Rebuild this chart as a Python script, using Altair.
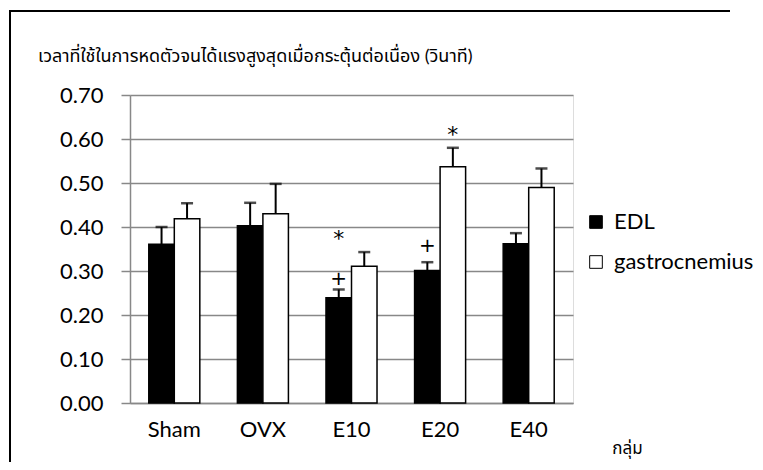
import altair as alt
import pandas as pd

groups = ["Sham", "OVX", "E10", "E20", "E40"]
series = ["EDL", "gastrocnemius"]
edl_mean = [0.361, 0.403, 0.239, 0.301, 0.362]
edl_top = [0.400, 0.455, 0.258, 0.320, 0.386]
gas_mean = [0.419, 0.430, 0.311, 0.537, 0.490]
gas_top = [0.454, 0.498, 0.343, 0.580, 0.533]

star_groups = ["E10", "E20"]
star_series = ["EDL", "gastrocnemius"]
star_y = [0.377, 0.614]
plus_groups = ["E10", "E20"]
plus_series = ["EDL", "EDL"]
plus_y = [0.282, 0.357]

y_ticks = [0.0, 0.1, 0.2, 0.3, 0.4, 0.5, 0.6, 0.7]
title_text = "เวลาที่ใช้ในการหดตัวจนได้แรงสูงสุดเมื่อกระตุ้นต่อเนื่อง (วินาที)"
x_title = "กลุ่ม"

FONT = "Lato, 'Noto Sans Thai', 'Noto Sans', sans-serif"
MFONT = "DejaVu Sans"

rows = []
for i, g in enumerate(groups):
    rows.append({"group": g, "series": "EDL", "value": edl_mean[i], "top": edl_top[i]})
    rows.append({"group": g, "series": "gastrocnemius", "value": gas_mean[i], "top": gas_top[i]})
df = pd.DataFrame(rows)
stars = pd.DataFrame({"group": star_groups, "series": star_series, "y": star_y, "t": ["*"] * 2})
pluses = pd.DataFrame({"group": plus_groups, "series": plus_series, "y": plus_y, "t": ["+"] * 2})

x_enc = alt.X("group:N", sort=groups,
              scale=alt.Scale(paddingInner=0.424, paddingOuter=0.212),
              axis=alt.Axis(title=x_title, labelAngle=0, ticks=False,
                            domainColor="#888888", domainWidth=1.5,
                            labelPadding=16, labelFontSize=22, labelFont=FONT,
                            labelColor="black", titleFont=FONT, titleFontSize=17,
                            titleFontWeight="normal", titleColor="black",
                            titleX=497, titleY=45, titleAlign="center",
                            titleBaseline="middle"))
xo_enc = alt.XOffset("series:N", sort=series,
                     scale=alt.Scale(paddingInner=0, paddingOuter=0))
y_scale = alt.Scale(domain=[0, 0.7], nice=False)

base = alt.Chart(df)

bars = base.mark_bar(stroke="black", strokeWidth=1.5).encode(
    x=x_enc,
    xOffset=xo_enc,
    y=alt.Y("value:Q", scale=y_scale,
            axis=alt.Axis(title=None, values=y_ticks, format=".2f",
                          grid=True, gridColor="#888888", gridWidth=1.5,
                          domainColor="#888888", domainWidth=1.5,
                          tickColor="#888888", tickWidth=1.5, tickSize=9,
                          labelPadding=18, labelFontSize=22, labelFont=FONT,
                          labelColor="black")),
    color=alt.Color("series:N", scale=alt.Scale(domain=series, range=["black", "white"]),
                    legend=alt.Legend(title=None, orient="none", legendX=455, legendY=116,
                                      symbolType="square", symbolSize=160,
                                      symbolStrokeColor="black", symbolStrokeWidth=1,
                                      labelFontSize=22, labelFont=FONT, labelColor="black",
                                      labelOffset=7, rowPadding=18, padding=0)),
)

err = base.mark_rule(color="black", strokeWidth=2).encode(
    x=alt.X("group:N", sort=groups),
    xOffset=alt.XOffset("series:N", sort=series),
    y=alt.Y("value:Q", scale=y_scale),
    y2="top:Q",
)

cap = base.mark_tick(color="black", thickness=2.5, size=12, orient="horizontal").encode(
    x=alt.X("group:N", sort=groups),
    xOffset=alt.XOffset("series:N", sort=series),
    y=alt.Y("top:Q", scale=y_scale),
)

star_marks = alt.Chart(stars).mark_text(fontSize=22, font=MFONT, color="black",
                                        baseline="middle", align="center", dy=2).encode(
    x=alt.X("group:N", sort=groups),
    xOffset=alt.XOffset("series:N", sort=series),
    y=alt.Y("y:Q", scale=y_scale),
    text="t:N",
)

plus_marks = alt.Chart(pluses).mark_text(fontSize=20, font=MFONT, color="black",
                                         baseline="middle", align="center").encode(
    x=alt.X("group:N", sort=groups),
    xOffset=alt.XOffset("series:N", sort=series),
    y=alt.Y("y:Q", scale=y_scale),
    text="t:N",
)

title = alt.Chart(pd.DataFrame({"t": [title_text]})).mark_text(
    align="left", baseline="middle", fontSize=18, font=FONT, color="black"
).encode(x=alt.value(-92), y=alt.value(-38), text="t:N")

one = pd.DataFrame({"k": [0]})
frame_top = alt.Chart(one).mark_rule(color="black", strokeWidth=2).encode(
    x=alt.value(-121), x2=alt.value(600), y=alt.value(-84), y2=alt.value(-84))
frame_left = alt.Chart(one).mark_rule(color="black", strokeWidth=2).encode(
    x=alt.value(-120), x2=alt.value(-120), y=alt.value(-85), y2=alt.value(380))

chart = alt.layer(bars, err, cap, star_marks, plus_marks, title, frame_top, frame_left).properties(
    width=443, height=308,
    autosize=alt.AutoSizeParams(type="none"),
    padding={"left": 122, "top": 87, "right": 182, "bottom": 59},
).configure_view(stroke=None).configure(background="white")

chart.save("out.html", embed_options={"renderer": "svg", "actions": False})
